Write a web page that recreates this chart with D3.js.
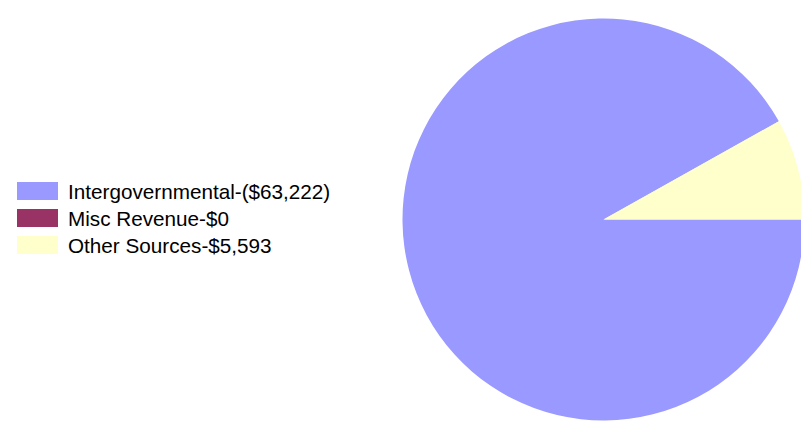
<!DOCTYPE html>
<html><head><meta charset="utf-8">
<script src="https://cdn.jsdelivr.net/npm/d3@7"></script>
<style>html,body{margin:0;padding:0;background:#fff;overflow:hidden}</style>
</head><body>
<svg id="chart" width="801" height="435"></svg>
<script>
const categories = ["Intergovernmental", "Misc Revenue", "Other Sources"];
const values = [-63222, 0, 5593];
const labels = ["Intergovernmental-($63,222)", "Misc Revenue-$0", "Other Sources-$5,593"];
const colors = ["#9999FF", "#993366", "#FFFFCC"];

const svg = d3.select("#chart");
const cx = 603.5, cy = 219.5, r = 201;

const pie = d3.pie().sort(null).value(d => Math.abs(d.v))
  .startAngle(Math.PI / 2).endAngle(Math.PI / 2 + 2 * Math.PI);
const data = categories.map((c, i) => ({c, v: values[i], col: colors[i]}));
const arc = d3.arc().innerRadius(0).outerRadius(r);

svg.append("g").attr("transform", `translate(${cx},${cy})`)
  .selectAll("path").data(pie(data)).join("path")
  .attr("d", arc).attr("fill", d => d.data.col);

const lg = svg.append("g");
const y = d3.scaleBand().domain(categories).range([178, 259]);
lg.selectAll("rect").data(data).join("rect")
  .attr("x", 17).attr("y", d => y(d.c) + 4).attr("width", 41).attr("height", 18)
  .attr("fill", d => d.col);
lg.selectAll("text").data(data).join("text")
  .attr("x", 68).attr("y", d => y(d.c) + 20.5)
  .attr("font-family", "Liberation Sans, Arial, sans-serif").attr("font-size", 20.7)
  .attr("fill", "#000")
  .text((d, i) => labels[i]);
</script>
</body></html>
